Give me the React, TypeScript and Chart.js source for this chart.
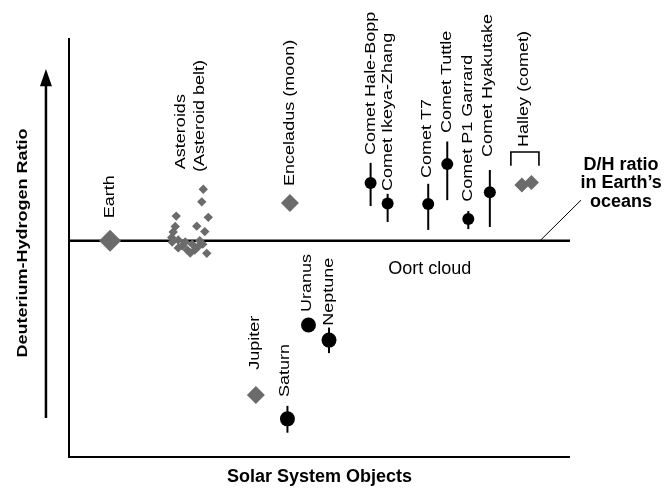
import React, { useEffect, useRef } from "react";
import { Chart, registerables } from "chart.js";

Chart.register(...registerables);

// ---- data (relative D/H, arbitrary units; x = position along "Solar System Objects") ----
const EARTH_OCEAN_DH = 51.6;

const diamondObjects = ["Earth", "Enceladus", "Jupiter", "Halley", "Halley"];
const diamondX = [8.2, 44.1, 37.3, 90.4, 92.3];
const diamondY = [51.6, 60.6, 14.8, 64.9, 65.5];

const asteroidX = [26.8, 26.5, 21.4, 27.8, 25.5, 27.1, 21.2, 20.8, 20.5, 27.5, 21.8, 22.6, 23.6, 24.6, 25.7, 23.2, 21.8, 26.1, 24.2, 25.1, 20.6, 26.7];
const asteroidY = [63.9, 60.9, 57.5, 57.2, 55.1, 53.8, 55.0, 53.7, 52.4, 48.6, 51.8, 50.4, 49.4, 50.8, 50.1, 51.3, 49.9, 51.6, 48.7, 49.4, 51.3, 50.8];

const circleObjects = ["Saturn", "Uranus", "Neptune", "Comet Hale-Bopp", "Comet Ikeya-Zhang", "Comet T7", "Comet Tuttle", "Comet P1 Garrard", "Comet Hyakutake"];
const circleX = [43.6, 47.8, 51.9, 60.2, 63.6, 71.7, 75.5, 79.7, 84.0];
const circleY = [9.1, 31.5, 27.9, 65.4, 60.5, 60.4, 69.9, 56.8, 63.2];
const circleErrLow = [5.8, 31.5, 24.8, 59.9, 56.1, 54.2, 61.3, 54.4, 54.9];
const circleErrHigh = [12.2, 31.5, 30.9, 70.2, 62.8, 65.2, 75.3, 58.7, 68.5];

const labelTexts = ["Earth", "Asteroids", "(Asteroid belt)", "Enceladus (moon)", "Jupiter", "Saturn", "Uranus", "Neptune", "Comet Hale-Bopp", "Comet Ikeya-Zhang", "Comet T7", "Comet Tuttle", "Comet P1 Garrard", "Comet Hyakutake", "Halley (comet)"];

const X_TITLE = "Solar System Objects";
const Y_TITLE = "Deuterium-Hydrogen Ratio";
const OORT_TEXT = "Oort cloud";
const DH_NOTE = ["D/H ratio", "in Earth\u2019s", "oceans"];

// ---- layout of annotations (positions in axis units) ----
const labelPos: [number, number][] = [
  [8.2, 57.0], [22.3, 68.7], [26.1, 68.0], [44.0, 64.7], [37.1, 20.8], [43.1, 14.3], [47.5, 34.6], [51.8, 31.3],
  [60.2, 72.1], [63.6, 63.5], [71.5, 66.6], [75.4, 77.3], [79.7, 60.9], [83.7, 71.6], [90.8, 74.0],
];

const FONT = "'Liberation Sans', Arial, Helvetica, sans-serif";
const GRAY = "#6b6b6b";

const diamondRadius: Record<string, number> = { Earth: 11, Enceladus: 9, Jupiter: 9, Halley: 7.5 };

const annotationPlugin = {
  id: "dhAnnotations",
  beforeDatasetsDraw(chart: any) {
    const { ctx, scales } = chart;
    const xs = scales.x, ys = scales.y;
    const px = (v: number) => xs.getPixelForValue(v);
    const py = (v: number) => ys.getPixelForValue(v);
    ctx.save();
    ctx.strokeStyle = "#000";
    ctx.lineCap = "butt";
    // axes
    ctx.lineWidth = 2;
    ctx.beginPath();
    ctx.moveTo(px(0), py(100));
    ctx.lineTo(px(0), py(0));
    ctx.lineTo(px(100), py(0));
    ctx.stroke();
    // error bars
    ctx.lineWidth = 2;
    for (let i = 0; i < circleX.length; i++) {
      if (circleErrHigh[i] === circleErrLow[i]) continue;
      ctx.beginPath();
      ctx.moveTo(px(circleX[i]), py(circleErrLow[i]));
      ctx.lineTo(px(circleX[i]), py(circleErrHigh[i]));
      ctx.stroke();
    }
    // Halley bracket
    ctx.lineWidth = 1.6;
    ctx.beginPath();
    ctx.moveTo(px(88.2), py(69.5));
    ctx.lineTo(px(88.2), py(72.8));
    ctx.lineTo(px(93.8), py(72.8));
    ctx.lineTo(px(93.8), py(69.5));
    ctx.stroke();
    // leader line
    ctx.lineWidth = 1;
    ctx.beginPath();
    ctx.moveTo(px(102.2), py(61.3));
    ctx.lineTo(px(94.0), py(EARTH_OCEAN_DH));
    ctx.stroke();
    // y arrow
    const ax = px(-4.6);
    ctx.lineWidth = 2.5;
    ctx.beginPath();
    ctx.moveTo(ax, py(9.3));
    ctx.lineTo(ax, py(89));
    ctx.stroke();
    ctx.fillStyle = "#000";
    ctx.beginPath();
    ctx.moveTo(ax, py(92.6));
    ctx.lineTo(ax - 6, py(88.5));
    ctx.lineTo(ax + 6, py(88.5));
    ctx.closePath();
    ctx.fill();

    // text
    ctx.fillStyle = "#000";
    const vText = (t: string, x: number, y: number, font: string, align: CanvasTextAlign) => {
      ctx.save();
      ctx.translate(x, y);
      ctx.rotate(-Math.PI / 2);
      ctx.scale(1.2, 1);
      ctx.font = font;
      ctx.textAlign = align;
      ctx.textBaseline = "middle";
      ctx.fillText(t, 0, 0);
      ctx.restore();
    };
    labelTexts.forEach((t, i) => {
      vText(t, px(labelPos[i][0]), py(labelPos[i][1]), `15px ${FONT}`, "left");
    });
    vText(Y_TITLE, px(-9.2), py(51.1), `bold 15px ${FONT}`, "center");

    ctx.font = `18px ${FONT}`;
    ctx.textAlign = "left";
    ctx.textBaseline = "middle";
    ctx.fillText(OORT_TEXT, px(63.7), py(44.9));

    ctx.font = `bold 18px ${FONT}`;
    ctx.textAlign = "center";
    ctx.fillText(X_TITLE, px(50), py(-4.8));
    const noteY = [69.7, 65.3, 60.9];
    DH_NOTE.forEach((t, i) => ctx.fillText(t, px(110.2), py(noteY[i])));
    ctx.restore();
  },
};

export default function App() {
  const ref = useRef<HTMLCanvasElement | null>(null);
  useEffect(() => {
    if (!ref.current) return;
    const chart = new Chart(ref.current, {
      type: "scatter",
      data: {
        datasets: [
          {
            label: "Circles",
            data: circleX.map((x, i) => ({ x, y: circleY[i] })),
            pointStyle: "circle",
            pointRadius: (c: any) => (c.dataIndex < 3 ? 7.5 : 6),
            pointHoverRadius: (c: any) => (c.dataIndex < 3 ? 7.5 : 6),
            backgroundColor: "#000",
            borderColor: "#000",
            borderWidth: 0,
            order: 1,
            clip: false,
          },
          {
            label: "Diamonds",
            data: diamondX.map((x, i) => ({ x, y: diamondY[i] })),
            pointStyle: "rectRot",
            pointRadius: (c: any) => diamondRadius[diamondObjects[c.dataIndex]] ?? 8,
            pointHoverRadius: (c: any) => diamondRadius[diamondObjects[c.dataIndex]] ?? 8,
            backgroundColor: GRAY,
            borderColor: GRAY,
            borderWidth: 0,
            order: 2,
            clip: false,
          },
          {
            label: "Asteroids",
            data: asteroidX.map((x, i) => ({ x, y: asteroidY[i] })),
            pointStyle: "rectRot",
            pointRadius: 4.7,
            pointHoverRadius: 4.7,
            backgroundColor: GRAY,
            borderColor: GRAY,
            borderWidth: 0,
            order: 3,
            clip: false,
          },
          {
            type: "line",
            label: "Earth oceans",
            data: [{ x: 0, y: EARTH_OCEAN_DH }, { x: 100, y: EARTH_OCEAN_DH }],
            borderColor: "#000",
            borderWidth: 2.5,
            pointRadius: 0,
            fill: false,
            order: 10,
            clip: false,
          } as any,
        ],
      },
      options: {
        animation: false,
        responsive: false,
        events: [],
        layout: { padding: { left: 69, right: 102, top: 38, bottom: 39 } },
        scales: {
          x: { type: "linear", min: 0, max: 100, display: false },
          y: { type: "linear", min: 0, max: 100, display: false },
        },
        plugins: { legend: { display: false }, tooltip: { enabled: false } },
      },
      plugins: [annotationPlugin],
    });
    return () => chart.destroy();
  }, []);
  return (
    <div style={{ position: "fixed", left: 0, top: 0, width: 672, height: 496, background: "#fff" }}>
      <canvas ref={ref} width={672} height={496} />
    </div>
  );
}
